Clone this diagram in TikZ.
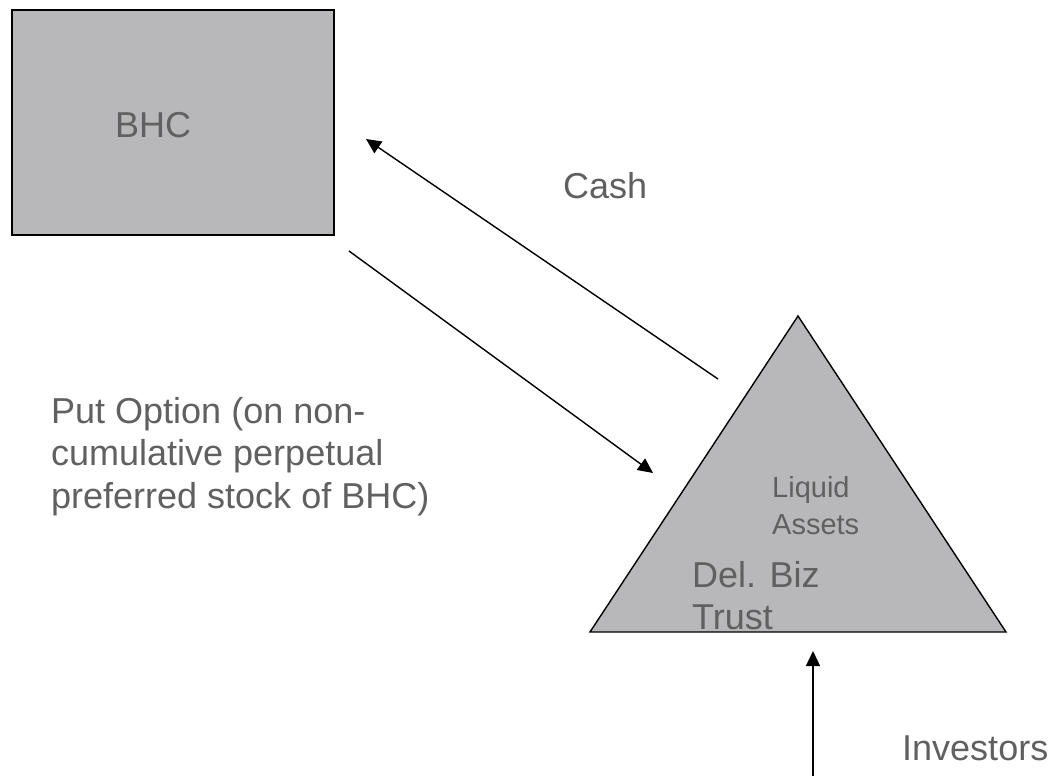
\documentclass[tikz,border=0pt]{standalone}
\usepackage{fontspec}
\setmainfont{Liberation Sans}
\usetikzlibrary{arrows.meta}
\definecolor{shapegray}{RGB}{184,184,186}
\definecolor{textgray}{RGB}{96,96,96}
\tikzset{
  shapebox/.style={draw=black, line width=1.4pt, fill=shapegray},
  flow/.style={draw=black, line width=1.4pt, -{Triangle[length=15pt,width=14pt]}},
  bigtext/.style={text=textgray, inner sep=0pt, font=\fontsize{36}{42.5}\selectfont, align=left},
  smalltext/.style={text=textgray, inner sep=0pt, font=\fontsize{29}{37}\selectfont, align=left},
}
\begin{document}
\begin{tikzpicture}[x=1pt,y=-1pt]
\useasboundingbox (0,0) rectangle (1053,776);
% BHC box
\path[shapebox] (12,10) rectangle (334,235);
\node[bigtext, anchor=base west] (bhc) at (115,137) {BHC};
% Trust triangle
\path[shapebox] (798,316) -- (1006,632) -- (590,632) -- cycle;
\node[smalltext, anchor=north west] (liquid) at (772,476) {Liquid\\Assets};
\node[bigtext, anchor=north west] (trust) at (692,561) {Del. Biz\\Trust};
% labels
\node[bigtext, anchor=base west] (cash) at (563,198) {Cash};
\node[bigtext, anchor=north west] (put) at (51,397) {Put Option (on non-\\cumulative perpetual\\preferred stock of BHC)};
\node[bigtext, anchor=base west] (inv) at (902,760) {Investors};
% connectors
\coordinate (cashstart) at (718,379);
\coordinate (cashend) at (366,139);
\coordinate (putstart) at (349,251);
\coordinate (putend) at (653,473);
\coordinate (invstart) at (813,776);
\coordinate (invend) at (813,651);
\draw[flow] (cashstart) -- (cashend);
\draw[flow] (putstart) -- (putend);
\draw[flow] (invstart) -- (invend);
\end{tikzpicture}
\end{document}
